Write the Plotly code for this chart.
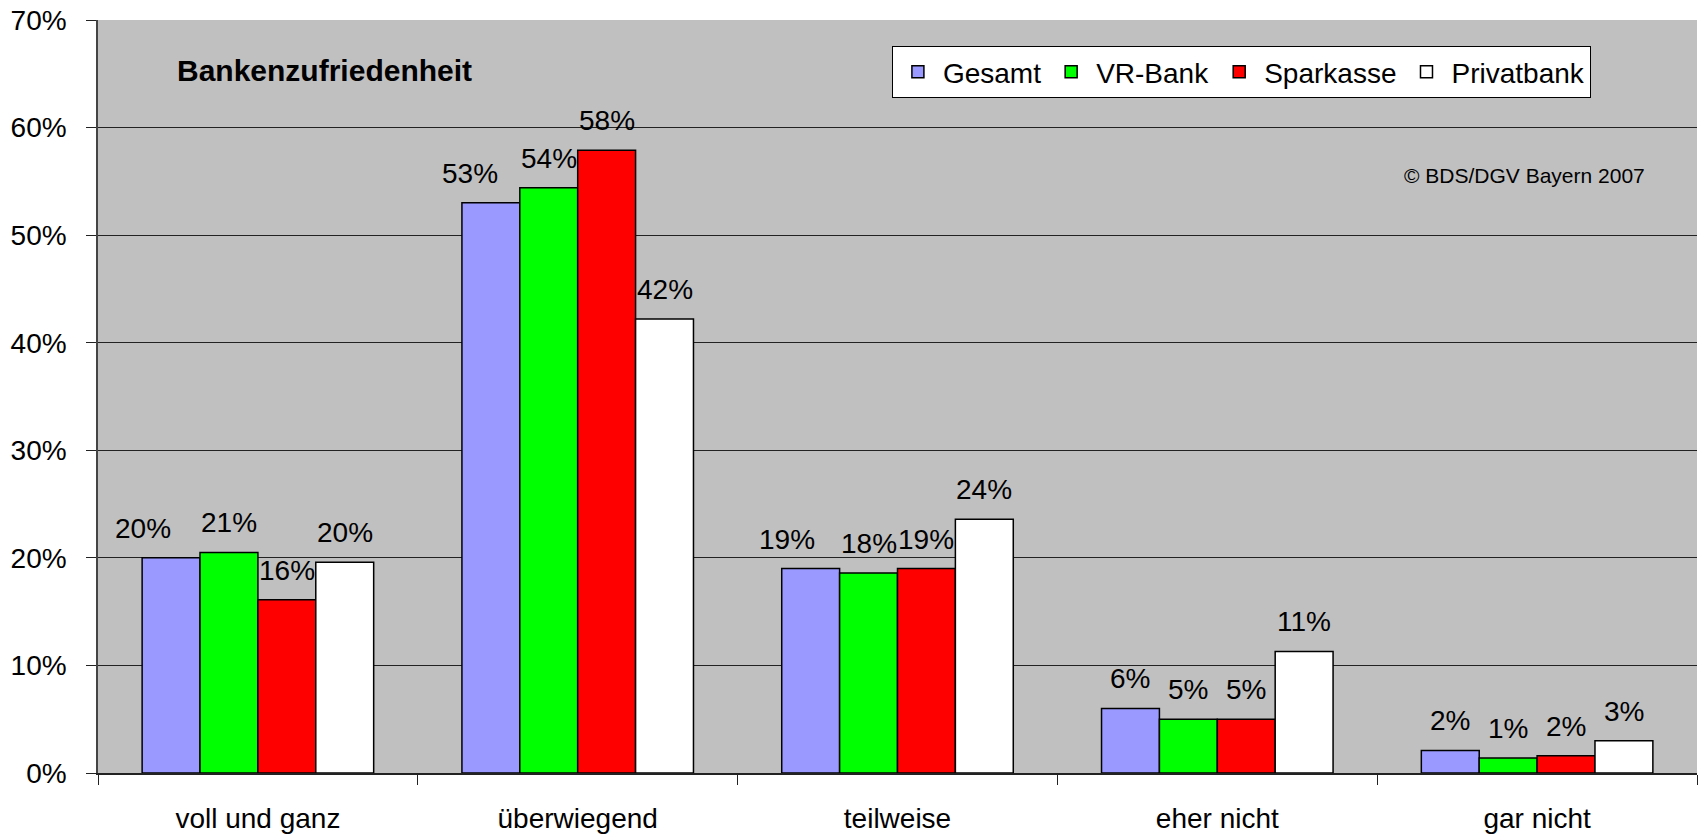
import plotly.graph_objects as go

# Bankenzufriedenheit, BDS/DGV Bayern 2007 (values in percent)
categories = ["voll und ganz", "überwiegend", "teilweise", "eher nicht", "gar nicht"]
series_names = ["Gesamt", "VR-Bank", "Sparkasse", "Privatbank"]

gesamt = [20.0, 53.0, 19.0, 6.0, 2.1]
vr_bank = [20.5, 54.4, 18.6, 5.0, 1.4]
sparkasse = [16.1, 57.9, 19.0, 5.0, 1.6]
privatbank = [19.6, 42.2, 23.6, 11.3, 3.0]

# labels as printed in the chart
gesamt_labels = ["20%", "53%", "19%", "6%", "2%"]
vr_bank_labels = ["21%", "54%", "18%", "5%", "1%"]
sparkasse_labels = ["16%", "58%", "19%", "5%", "2%"]
privatbank_labels = ["20%", "42%", "24%", "11%", "3%"]

y_ticks = [0, 10, 20, 30, 40, 50, 60, 70]
y_tick_labels = ["0%", "10%", "20%", "30%", "40%", "50%", "60%", "70%"]

series_values = [gesamt, vr_bank, sparkasse, privatbank]
series_labels = [gesamt_labels, vr_bank_labels, sparkasse_labels, privatbank_labels]
colors = ["#9999FF", "#00FF00", "#FF0000", "#FFFFFF"]

FONT = "Liberation Sans, Arial, sans-serif"
BARGAP = 0.276
# a few labels were dragged sideways in the original (series, category) -> px
label_nudge = {(0, 0): -28, (0, 1): -21, (0, 2): -24}

fig = go.Figure()
for name, vals, color in zip(series_names, series_values, colors):
    fig.add_trace(go.Bar(
        name=name,
        x=categories,
        y=vals,
        marker=dict(color=color, line=dict(color="black", width=1.5)),
        hoverinfo="skip",
    ))

# value labels above each bar
bar_w = (1 - BARGAP) / len(series_names)
annotations = []
for i, labels in enumerate(series_labels):
    offset = (i - (len(series_names) - 1) / 2) * bar_w
    for j, (txt, val) in enumerate(zip(labels, series_values[i])):
        annotations.append(dict(
            x=j + offset, y=val, xref="x", yref="y",
            text=txt, showarrow=False, yanchor="bottom",
            xshift=label_nudge.get((i, j), 0), yshift=12,
            font=dict(size=28, color="black", family=FONT),
        ))

annotations.append(dict(
    x=0.048, y=0.933, xref="paper", yref="paper", xanchor="left", yanchor="middle",
    text="<b>Bankenzufriedenheit</b>", showarrow=False,
    font=dict(size=30, color="black", family=FONT),
))
annotations.append(dict(
    x=0.9686, y=0.793, xref="paper", yref="paper", xanchor="right", yanchor="middle",
    text="© BDS/DGV Bayern 2007", showarrow=False,
    font=dict(size=21, color="black", family=FONT),
))

fig.update_layout(
    barmode="group",
    bargap=BARGAP,
    bargroupgap=0,
    width=1702,
    height=837,
    margin=dict(l=98, r=5, t=20, b=64),
    paper_bgcolor="white",
    plot_bgcolor="#C0C0C0",
    font=dict(family=FONT, size=28, color="black"),
    annotations=annotations,
    legend=dict(
        orientation="h",
        x=0.4965, y=0.9655, xanchor="left", yanchor="top",
        bgcolor="white", bordercolor="black", borderwidth=1,
        font=dict(size=28, family=FONT, color="black"),
        itemwidth=40,
        traceorder="normal",
    ),
    xaxis=dict(
        type="category",
        automargin=False,
        showgrid=False,
        showline=True, linecolor="#222", linewidth=1.5,
        ticks="outside", tickson="boundaries", ticklen=10, tickcolor="#222",
        tickfont=dict(size=28),
        ticklabelstandoff=20,
    ),
    yaxis=dict(
        range=[0, 70],
        automargin=False,
        tickvals=y_ticks,
        ticktext=y_tick_labels,
        showgrid=True, gridcolor="#222", gridwidth=1,
        showline=True, linecolor="#444", linewidth=1.5,
        ticks="outside", ticklen=10, tickcolor="#222",
        tickfont=dict(size=28),
        ticklabelstandoff=14,
        zeroline=False,
    ),
)

# page body margin would shift the fixed-size figure
fig.write_html(
    "out.html",
    config={"displayModeBar": False},
    post_script="document.body.style.margin='0';",
)
